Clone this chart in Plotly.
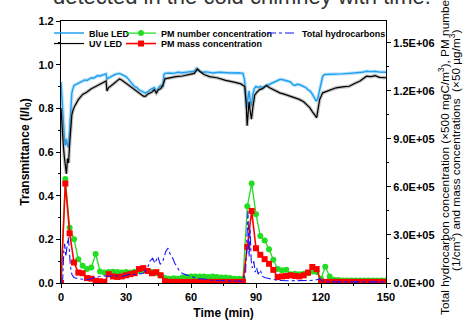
import plotly.graph_objects as go

# ---------------- data ----------------
blue_led = [(0,0.92),(0.5,0.83),(1,0.74),(1.5,0.67),(2,0.63),(2.5,0.66),(3,0.63),(3.5,0.62),(4,0.70),(4.5,0.82),
            (5,0.87),(5.5,0.89),(6,0.905),(7,0.91),(8,0.915),(9,0.92),(10,0.925),(11,0.93),(12,0.928),(13,0.935),
            (14,0.94),(15,0.938),(16,0.945),(17,0.95),(18,0.948),(19,0.952),(20,0.955),(20.8,0.958),(21.2,0.935),(22,0.94),
            (23,0.945),(24,0.95),(25,0.955),(26,0.958),(27,0.96),(28,0.955),(29,0.95),(30,0.945),(31,0.935),(32,0.92),
            (33,0.91),(34,0.90),(35,0.895),(36,0.885),(37,0.88),(38,0.875),(39,0.87),(40,0.875),(41,0.885),(42,0.89),
            (43,0.895),(44,0.88),(45,0.895),(46,0.905),(47,0.90),(47.5,0.955),(48,0.96),(50,0.962),(52,0.96),(54,0.965),
            (56,0.963),(58,0.967),(60,0.968),(61.5,0.97),(62.5,0.982),(63.5,0.972),(65,0.965),(67,0.967),(70,0.962),(73,0.965),
            (76,0.963),(79,0.962),(82,0.963),(84,0.96),(84.7,0.93),(85.2,0.85),(85.7,0.80),(86.2,0.84),(86.8,0.88),(87.4,0.83),
            (87.9,0.81),(88.5,0.86),(89.2,0.89),(90,0.90),(91,0.895),(92,0.90),(93,0.895),(94,0.90),(95,0.905),(96,0.91),
            (97,0.915),(98,0.92),(99,0.925),(100,0.93),(101,0.932),(102,0.932),(103,0.93),(104,0.925),(105,0.924),(106,0.92),
            (107,0.909),(108,0.905),(109,0.91),(110,0.909),(111,0.905),(112,0.90),(113,0.895),(114,0.885),(115,0.879),(116,0.865),
            (117,0.85),(117.8,0.833),(118.5,0.845),(119.3,0.88),(120,0.92),(120.8,0.947),(121.7,0.955),(123,0.955),(125,0.957),(127,0.955),
            (130,0.958),(133,0.96),(136,0.962),(139,0.965),(141,0.97),(143,0.968),(145,0.97),(147,0.966),(150,0.965)]

uv_led = [(0,0.80),(0.5,0.70),(1,0.64),(1.5,0.58),(2,0.53),(2.5,0.50),(3,0.57),(3.5,0.55),(4,0.64),(4.5,0.72),
          (5,0.77),(5.5,0.79),(6.3,0.81),(8,0.84),(10,0.864),(12,0.875),(14,0.89),(16,0.90),(18,0.91),(20,0.918),
          (20.8,0.925),(21.2,0.88),(22,0.895),(24,0.91),(26,0.925),(27,0.935),(28,0.93),(30,0.915),(32,0.90),(34,0.885),
          (36,0.87),(38,0.856),(39,0.855),(40,0.865),(42,0.875),(43,0.885),(44,0.87),(45,0.885),(46,0.89),(47,0.905),
          (48,0.935),(50,0.94),(53,0.945),(56,0.948),(59,0.955),(61.5,0.96),(63,0.98),(64,0.97),(66,0.955),(68.6,0.945),
          (72,0.94),(76,0.928),(80,0.92),(83,0.912),(84.8,0.90),(85.5,0.82),(85.9,0.72),(86.4,0.78),(86.8,0.83),(87.3,0.79),
          (87.9,0.75),(88.5,0.80),(89.4,0.86),(90.5,0.875),(91.7,0.886),(93,0.89),(94.8,0.905),(96.3,0.894),(98,0.885),(101,0.871),
          (103,0.865),(105.6,0.856),(108,0.85),(110,0.841),(112,0.83),(113.5,0.815),(114.8,0.803),(116,0.785),(117.2,0.765),(118,0.757),
          (118.7,0.80),(119.4,0.841),(120.8,0.871),(123,0.88),(125,0.888),(127,0.894),(130,0.898),(133,0.901),(136,0.916),(138,0.925),
          (141,0.947),(143,0.945),(145,0.95),(147,0.942),(150,0.94)]

pm_time = list(range(0, 151, 2))
# PM number concentration (1/cm3), in units of 1e5
pm_number = [0, 6.50, 3.45, 2.73, 1.49, 1.08, 0.87, 0.97, 1.81, 0.72,
             0.65, 0.68, 0.71, 0.68, 0.65, 0.68, 0.65, 0.71, 0.75, 0.79,
             0.75, 0.68, 0.61, 0.48, 0.31, 0.27, 0.30, 0.27, 0.34, 0.38,
             0.41, 0.41, 0.41, 0.41, 0.38, 0.41, 0.38, 0.34, 0.34, 0.31,
             0.27, 0.27, 0.27, 4.79, 6.21, 4.30, 2.93, 2.65, 2.11, 1.45,
             0.87, 0.79, 0.82, 0.55, 0.57, 0.55, 0.57, 0.61, 0.72, 0.68,
             0.27, 1.02, 0.41, 0.20, 0.18, 0.16, 0.16, 0.16, 0.16, 0.16,
             0.16, 0.16, 0.16, 0.16, 0.16, 0.16]
# PM mass concentration (x50 ug/m3), in units of 1e5
pm_mass = [0, 6.21, 3.10, 1.28, 0.65, 0.61, 0.31, 0.27, 0.14, 0.11,
           0.07, 0.55, 0.41, 0.38, 0.41, 0.48, 0.55, 0.61, 0.87, 0.93,
           0.75, 0.61, 0.68, 0.48, 0.11, 0.07, 0.07, 0.07, 0.07, 0.07,
           0.07, 0.07, 0.07, 0.07, 0.07, 0.07, 0.07, 0.07, 0.07, 0.07,
           0.07, 0.07, 0.07, 2.26, 4.50, 2.17, 1.76, 1.49, 1.20, 0.82,
           0.37, 0.41, 0.44, 0.48, 0.44, 0.41, 0.48, 0.65, 1.00, 0.87,
           0.07, 0.07, 0.07, 0.07, 0.07, 0.07, 0.07, 0.07, 0.07, 0.07,
           0.07, 0.07, 0.07, 0.07, 0.07, 0.07]
# Total hydrocarbons (x500 mgC/m3), in units of 1e5
thc = [(0,0),(0.8,0.27),(1.3,2.05),(1.7,2.45),(2.2,1.64),(2.7,2.32),(3.3,2.86),(3.8,2.18),(4.3,1.09),(5,0.55),
       (6,0.34),(8,0.27),(10,0.25),(12,0.20),(14,0.27),(16,0.38),(18,0.41),(20,0.45),(22,0.41),(24,0.48),
       (26,0.44),(28,0.41),(30,0.48),(32,0.55),(34,0.52),(36,0.57),(38,0.61),(40,0.95),(41,1.36),(42.3,1.55),
       (43.3,1.23),(44.7,1.65),(45.8,1.16),(47,1.36),(48.4,1.98),(49.4,2.18),(50.5,1.77),(51.5,1.57),(52.5,1.23),(53.5,1.02),
       (55,0.68),(56.5,0.57),(58,0.48),(60,0.41),(63,0.27),(66,0.25),(70,0.16),(75,0.14),(80,0.14),(84,0.11),
       (85.2,0.68),(85.8,3.41),(86.3,4.50),(86.8,1.64),(87.3,3.41),(87.8,1.36),(88.3,0.95),(89,1.36),(89.6,0.68),(90.3,0.95),
       (91,0.55),(92,0.82),(93,0.41),(94,0.34),(96,0.27),(98,0.20),(100,0.16),(105,0.14),(110,0.14),(115,0.16),
       (118,0.20),(119.5,0.27),(120.5,0.14),(122,0.07),(130,0.07),(140,0.07),(150,0.07)]

x_ticks = [0, 30, 60, 90, 120, 150]
y_ticks = [0.0, 0.2, 0.4, 0.6, 0.8, 1.0, 1.2]
y2_ticks = [0, 3e5, 6e5, 9e5, 1.2e6, 1.5e6]
y2_labels = ["0.0E+00", "3.0E+05", "6.0E+05", "9.0E+05", "1.2E+06", "1.5E+06"]
y2_title_1 = "Total hydrocarbon concentration (×500 mgC/m<sup>3</sup>), PM number"
y2_title_2 = "(1/cm<sup>3</sup>) and mass concentrations  (×50 µg/m<sup>3</sup>)"

# ---------------- figure ----------------
FONT = "Liberation Sans, Arial, sans-serif"
BLUE = "#1fa0f0"
fig = go.Figure()

bt = [p[0] for p in blue_led]; bv = [p[1] for p in blue_led]
ut = [p[0] for p in uv_led]; uv = [p[1] for p in uv_led]
tt = [p[0] for p in thc]; tv = [p[1] * 1e5 for p in thc]

fig.add_trace(go.Scatter(x=bt, y=bv, mode="lines", line=dict(color="rgba(120,200,250,0.5)", width=3.5),
                         showlegend=False, hoverinfo="skip"))
fig.add_trace(go.Scatter(x=bt, y=bv, mode="lines", name="Blue LED", line=dict(color=BLUE, width=1.4),
                         legend="legend"))
fig.add_trace(go.Scatter(x=ut, y=uv, mode="lines", line=dict(color="rgba(120,120,120,0.45)", width=3.5),
                         showlegend=False, hoverinfo="skip"))
fig.add_trace(go.Scatter(x=ut, y=uv, mode="lines", name="UV LED", line=dict(color="black", width=1.2),
                         legend="legend2"))
fig.add_trace(go.Scatter(x=pm_time, y=[v * 1e5 for v in pm_number], yaxis="y2", mode="lines+markers",
                         name="PM number concentration", line=dict(color="#22dd22", width=1.3),
                         marker=dict(symbol="circle", size=6, color="#22dd22"), legend="legend3"))
fig.add_trace(go.Scatter(x=pm_time, y=[v * 1e5 for v in pm_mass], yaxis="y2", mode="lines+markers",
                         name="PM mass concentration", line=dict(color="#ff0000", width=1.6),
                         marker=dict(symbol="square", size=6, color="#ff0000"), legend="legend4"))
fig.add_trace(go.Scatter(x=tt, y=tv, yaxis="y2", mode="lines", name="Total hydrocarbons",
                         line=dict(color="#1515ff", width=1.1, dash="dashdot"), legend="legend5"))

axis_common = dict(showline=True, linecolor="black", linewidth=1.2, ticks="outside", ticklen=4,
                   tickwidth=1.2, tickcolor="black", showgrid=False, zeroline=False,
                   tickfont=dict(family=FONT, size=11, color="black", weight="bold"))

fig.update_layout(
    width=465, height=322,
    margin=dict(l=61, r=79, t=21, b=39, autoexpand=False),
    paper_bgcolor="white", plot_bgcolor="white",
    font=dict(family=FONT, color="black"),
    xaxis=dict(range=[0, 150], tickvals=x_ticks, mirror=True,
               minor=dict(ticks="outside", dtick=15, ticklen=2, tickcolor="black"),
               title=dict(text="Time (min)", font=dict(family=FONT, size=12, weight="bold"), standoff=6),
               **axis_common),
    yaxis=dict(range=[0, 1.2], tickvals=y_ticks, tickformat=".1f",
               minor=dict(ticks="outside", dtick=0.1, ticklen=2, tickcolor="black"),
               title=dict(text="Transmittance (I/I<sub>0</sub>)", font=dict(family=FONT, size=12, weight="bold"),
                          standoff=6),
               **axis_common),
    yaxis2=dict(range=[0, 1.636e6], overlaying="y", side="right", tickvals=y2_ticks, ticktext=y2_labels,
                minor=dict(ticks="outside", tickvals=[1.5e5, 4.5e5, 7.5e5, 1.05e6, 1.35e6], ticklen=2,
                           tickcolor="black"),
                **axis_common),
    showlegend=True,
)

leg_font = dict(family=FONT, size=9, color="black", weight="bold")
def leg(x, y):
    return dict(x=x, y=y, xanchor="left", yanchor="middle", bgcolor="rgba(0,0,0,0)",
                borderwidth=0, font=leg_font, orientation="v")

fig.update_layout(
    legend=leg((49 - 61) / 325, 0.954),
    legend2=leg((49 - 61) / 325, 0.914),
    legend3=leg((121 - 61) / 325, 0.954),
    legend4=leg((121 - 61) / 325, 0.914),
    legend5=leg((262 - 61) / 325, 0.954),
)

# right-axis title (two lines, tight spacing as in the original)
fig.add_annotation(text=y2_title_1, xref="paper", yref="paper", x=(445 - 61) / 325, y=0.485,
                   xanchor="center", yanchor="middle", textangle=-90, showarrow=False,
                   font=dict(family=FONT, size=11.8, color="black"))
fig.add_annotation(text=y2_title_2, xref="paper", yref="paper", x=(456 - 61) / 325, y=0.508,
                   xanchor="center", yanchor="middle", textangle=-90, showarrow=False,
                   font=dict(family=FONT, size=11.8, color="black"))

fig.add_annotation(text="detected in the cold chimney with time.", xref="paper", yref="paper",
                   x=1.145, y=1.038, xanchor="right", yanchor="bottom", showarrow=False,
                   font=dict(family=FONT, size=22, color="#333333"))

fig.write_html("out.html")
